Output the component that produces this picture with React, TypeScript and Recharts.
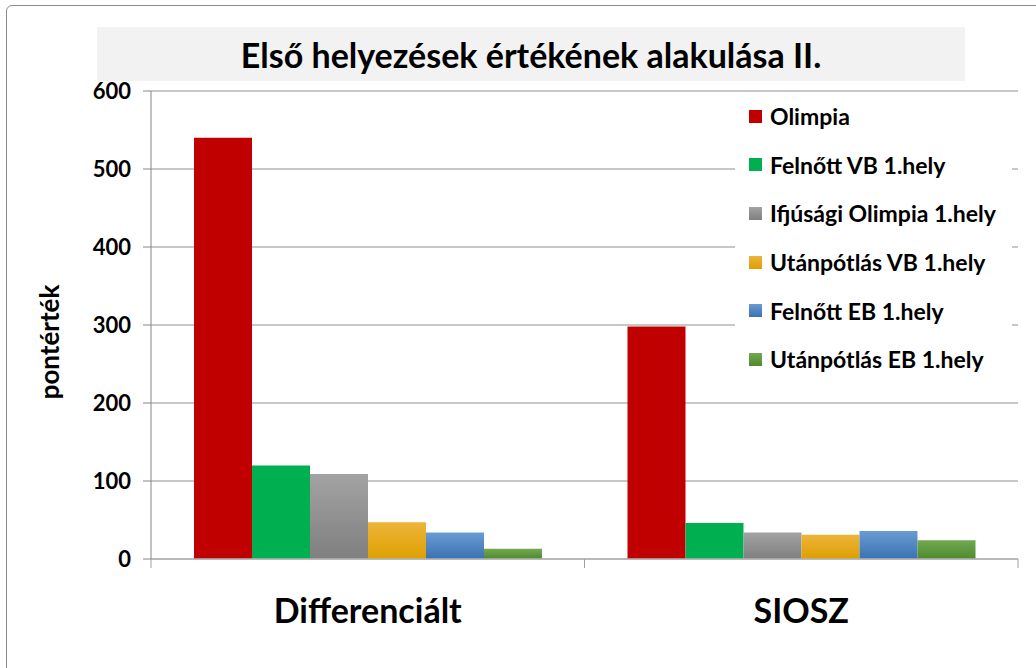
import React from "react";
import {
  BarChart,
  Bar,
  XAxis,
  YAxis,
  CartesianGrid
} from "recharts";

const categories = ["Differenciált", "SIOSZ"];
const olimpia = [540, 298];
const felnottVb = [120, 46];
const ifjusagiOlimpia = [109, 34];
const utanpotlasVb = [47, 31];
const felnottEb = [34, 36];
const utanpotlasEb = [13, 24];
const yTicks = [0, 100, 200, 300, 400, 500, 600];

const series = [
  { key: "olimpia", name: "Olimpia", values: olimpia, top: "#C00000", bottom: "#C00000" },
  { key: "felnottVb", name: "Felnőtt VB 1.hely", values: felnottVb, top: "#00B050", bottom: "#00B050" },
  { key: "ifjusagi", name: "Ifjúsági Olimpia 1.hely", values: ifjusagiOlimpia, top: "#A3A3A3", bottom: "#7F7F7F" },
  { key: "utanpotlasVb", name: "Utánpótlás VB 1.hely", values: utanpotlasVb, top: "#EDB43A", bottom: "#DDA000" },
  { key: "felnottEb", name: "Felnőtt EB 1.hely", values: felnottEb, top: "#6A9BD2", bottom: "#3972B3" },
  { key: "utanpotlasEb", name: "Utánpótlás EB 1.hely", values: utanpotlasEb, top: "#72A852", bottom: "#4E8A2C" }
];

const data = categories.map((c, i) => {
  const row: Record<string, string | number> = { category: c };
  series.forEach((s) => {
    row[s.key] = s.values[i];
  });
  return row;
});

const FONT = "Lato, 'Open Sans', sans-serif";

const XTick = (props: any) => {
  const { x, y, payload } = props;
  const off = payload.offset ?? 0;
  return (
    <g>
      <line x1={x - off} y1={y - 8} x2={x - off} y2={y + 1} stroke="#A0A0A0" />
      <line x1={x + off} y1={y - 8} x2={x + off} y2={y + 1} stroke="#A0A0A0" />
      <text
        x={x}
        y={y + 56}
        textAnchor="middle"
        fontFamily={FONT}
        fontWeight={700}
        fontSize={34}
        fill="#000"
      >
        {payload.value}
      </text>
    </g>
  );
};

const LegendBox = () => (
  <div
    style={{
      position: "absolute",
      left: 735,
      top: 92,
      width: 277,
      height: 292,
      background: "#fff",
      boxSizing: "border-box",
      fontFamily: FONT
    }}
  >
    {series.map((s) => (
      <div
        key={s.key}
        style={{ display: "flex", alignItems: "center", height: 48.6, paddingLeft: 14 }}
      >
        <span
          style={{
            width: 13,
            height: 13,
            background: `linear-gradient(${s.top}, ${s.bottom})`,
            marginRight: 8,
            display: "inline-block",
            flex: "none"
          }}
        />
        <span style={{ fontSize: 23, fontWeight: 700, color: "#000", whiteSpace: "nowrap" }}>
          {s.name}
        </span>
      </div>
    ))}
  </div>
);

export default function App() {
  return (
    <div
      style={{
        position: "absolute",
        left: 0,
        top: 0,
        width: 1036,
        height: 668,
        overflow: "hidden",
        background: "#fff"
      }}
    >
      <div
        style={{
          position: "absolute",
          left: 6,
          top: 5,
          width: 1060,
          height: 700,
          border: "1.5px solid #8C8C8C",
          borderRadius: 6
        }}
      />
      <div
        style={{
          position: "absolute",
          left: 97,
          top: 27,
          width: 868,
          height: 54,
          background: "#F2F2F2",
          display: "flex",
          alignItems: "center",
          justifyContent: "center",
          fontFamily: FONT,
          fontWeight: 700,
          fontSize: 34,
          color: "#000"
        }}
      >
        Első helyezések értékének alakulása II.
      </div>
      <div
        style={{
          position: "absolute",
          left: 49,
          top: 342,
          transform: "translate(-50%, -50%) rotate(-90deg)",
          fontFamily: FONT,
          fontWeight: 700,
          fontSize: 26,
          whiteSpace: "nowrap"
        }}
      >
        pontérték
      </div>
      <BarChart
        width={1036}
        height={668}
        data={data}
        margin={{ top: 91, right: 18, left: 71, bottom: 59 }}
        barCategoryGap={43}
        barGap={0}
        style={{ position: "absolute", left: 0, top: 0 }}
      >
        <defs>
          {series.map((s) => (
            <linearGradient key={s.key} id={`g-${s.key}`} x1="0" y1="0" x2="0" y2="1">
              <stop offset="0%" stopColor={s.top} />
              <stop offset="100%" stopColor={s.bottom} />
            </linearGradient>
          ))}
        </defs>
        <CartesianGrid vertical={false} stroke="#B4B4B4" strokeWidth={1.5} />
        <XAxis
          dataKey="category"
          height={50}
          axisLine={{ stroke: "#B4B4B4", strokeWidth: 1.5 }}
          tickLine={false}
          tick={<XTick />}
          interval={0}
        />
        <YAxis
          width={80}
          domain={[0, 600]}
          ticks={yTicks}
          interval={0}
          axisLine={{ stroke: "#868686" }}
          tickLine={{ stroke: "#868686" }}
          tickSize={8}
          tickMargin={12}
          tick={{ fill: "#000", fontFamily: FONT, fontWeight: 700, fontSize: 22 }}
        />
        {series.map((s) => (
          <Bar
            key={s.key}
            dataKey={s.key}
            name={s.name}
            fill={`url(#g-${s.key})`}
            isAnimationActive={false}
          />
        ))}
      </BarChart>
      <LegendBox />
    </div>
  );
}
